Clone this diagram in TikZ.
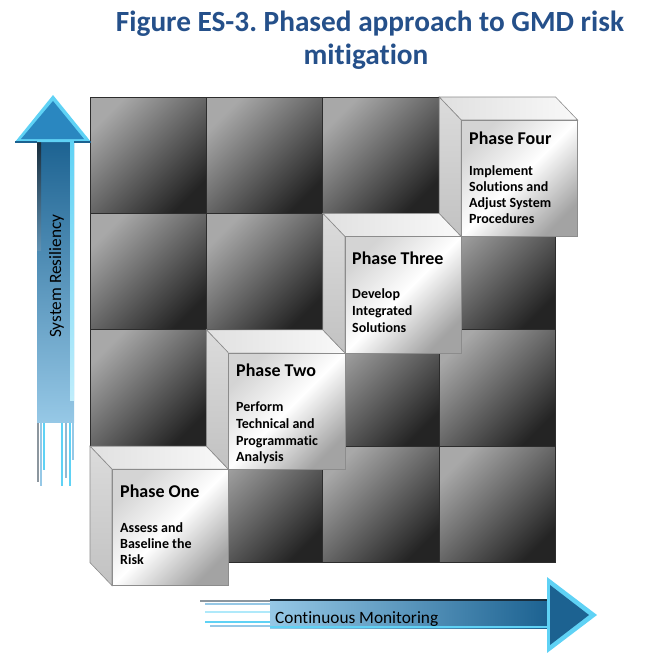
\documentclass[tikz,border=0pt]{standalone}
\usepackage{fontspec}
\setmainfont{Carlito}[Ligatures={NoCommon,NoContextual}]
\frenchspacing
\definecolor{titleblue}{RGB}{37,80,138}
\definecolor{cellL}{RGB}{168,168,168}
\definecolor{cellD}{RGB}{36,36,36}
\definecolor{gridline}{RGB}{45,45,45}
\definecolor{cubeline}{RGB}{140,140,140}
\definecolor{arrD}{RGB}{28,98,145}
\definecolor{arrM}{RGB}{42,135,192}
\definecolor{arrL}{RGB}{150,200,230}
\definecolor{arrC}{RGB}{95,210,245}
\definecolor{arrK}{RGB}{25,45,60}
\tikzset{
 cell/.style={draw=gridline, line width=0.8pt, top color=cellL, bottom color=cellD, shading angle=45},
 frontface/.style={draw=cubeline, line width=0.6pt, top color=gray!34, bottom color=gray!72, middle color=white, shading angle=45},
 topface/.style={draw=cubeline, line width=0.6pt, left color=gray!24, right color=gray!5},
 leftface/.style={draw=cubeline, line width=0.6pt, top color=gray!28, bottom color=gray!48},
 ptitle/.style={anchor=base west, inner sep=0pt, font=\bfseries\fontsize{18}{20}\selectfont},
 ptext/.style={anchor=base west, inner sep=0pt, font=\bfseries\fontsize{14}{16}\selectfont},
 arrtext/.style={inner sep=0pt, font=\fontsize{17.3}{19}\selectfont},
 ttext/.style={anchor=base, inner sep=0pt, text=titleblue, font=\bfseries\fontsize{29.3}{32}\selectfont},
}
\begin{document}
\begin{tikzpicture}[x=1pt,y=-1pt]
\useasboundingbox (0,0) rectangle (664,653);
% title
\node[ttext] (title1) at (370,31) {Figure ES-3. Phased approach to GMD risk};
\node[ttext] (title2) at (366,64) {mitigation};
\node[anchor=base east, inner sep=0pt, font=\fontsize{36}{36}\selectfont] (frag) at (2.5,68) {n};
% grid
\foreach \i in {0,...,3} \foreach \j in {0,...,3} {
  \path[cell] (90+116.4*\i, 97+116.4*\j) rectangle ++(116.4,116.4);
}
% cubes
\foreach \k in {0,...,3} {
  \pgfmathsetmacro\bx{90+116.4*\k}
  \pgfmathsetmacro\by{97+116.4*(3-\k)}
  \path[topface] (\bx,\by) -- ++(116.4,0) -- ++(22,23) -- ++(-116.4,0) -- cycle;
  \path[leftface] (\bx,\by) -- ++(22,23) -- ++(0,116.4) -- ++(-22,-23) -- cycle;
  \path[frontface] (\bx+22,\by+23) rectangle ++(116.4,116.4);
}
% phase texts
\node[ptitle] (p1) at (120,497) {Phase One};
\node[ptext] (p1a) at (120,532) {Assess and};
\node[ptext] (p1b) at (120,548) {Baseline the};
\node[ptext] (p1c) at (120,564) {Risk};
\node[ptitle] (p2) at (236,376) {Phase Two};
\node[ptext] (p2a) at (236,411) {Perform};
\node[ptext] (p2b) at (236,428) {Technical and};
\node[ptext] (p2c) at (236,445) {Programmatic};
\node[ptext] (p2d) at (236,461) {Analysis};
\node[ptitle] (p3) at (352,264) {Phase Three};
\node[ptext] (p3a) at (352,298) {Develop};
\node[ptext] (p3b) at (352,315) {Integrated};
\node[ptext] (p3c) at (352,332) {Solutions};
\node[ptitle] (p4) at (469,144) {Phase Four};
\node[ptext] (p4a) at (469,175) {Implement};
\node[ptext] (p4b) at (469,191) {Solutions and};
\node[ptext] (p4c) at (469,207) {Adjust System};
\node[ptext] (p4d) at (469,223) {Procedures};
% vertical arrow
\foreach \xx/\ya/\yb/\cc in {38/420/482/arrK!50, 41/420/486/arrL, 44/420/470/arrC, 62/420/486/arrC, 66/420/478/arrL!80!gray, 70/420/486/arrC, 73/420/460/arrL}
  \draw[\cc, line width=1.1pt] (\xx,\ya) -- (\xx,\yb);
\shade[top color=arrD, bottom color=arrL] (37,140) rectangle (74,422);
\shade[top color=arrK, bottom color=arrD!70] (37,142) rectangle (41,250);
\shade[top color=arrC, bottom color=arrC!40] (70,142) rectangle (74,400);
\fill[arrC] (53,95) -- (91,142) -- (15,142) -- cycle;
\fill[arrM] (53,101) -- (84,139) -- (21,139) -- cycle;
\draw[arrD, line width=1.2pt] (15,142) -- (37,142) (74,142) -- (91,142);
\node[arrtext, rotate=90, anchor=base west] (sr) at (61,338) {System Resiliency};
% horizontal arrow
\foreach \yy/\xa/\cc in {601/200/arrK!50, 604/205/arrL, 612/205/arrC!50, 622/205/arrC, 626/210/arrL}
  \draw[\cc, line width=1.1pt] (\xa,\yy) -- (275,\yy);
\shade[left color=arrL, right color=arrD] (270,599) rectangle (548,628);
\draw[arrK, line width=1.5pt] (270,600) -- (548,600);
\draw[arrC, line width=1.5pt] (270,627) -- (548,627);
\fill[arrC] (547,577) -- (597,615) -- (547,653) -- cycle;
\fill[arrD] (550,585) -- (589,615) -- (550,645) -- cycle;
\node[arrtext, anchor=base west] (cm) at (275,623) {Continuous Monitoring};
\end{tikzpicture}
\end{document}
